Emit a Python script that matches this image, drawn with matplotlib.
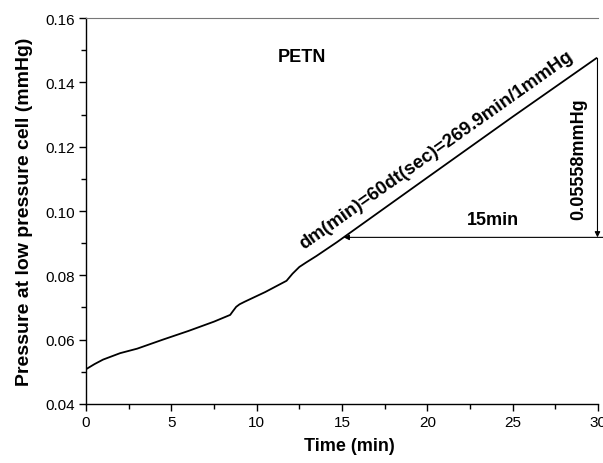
import numpy as np
import matplotlib
matplotlib.use('Agg')
import matplotlib.pyplot as plt
from matplotlib.ticker import MultipleLocator, FormatStrFormatter

plt.rcParams['font.family'] = ['Liberation Sans', 'DejaVu Sans']

# PETN pressure trace
time_min = [0.0, 0.5, 1.0, 2.0, 3.0, 4.5, 6.0, 7.5, 8.45, 8.6, 8.8, 9.0, 9.3,
            10.5, 11.75, 12.1, 12.5, 12.9, 13.5, 14.7, 20.0, 25.0, 29.9]
pressure = [0.0508, 0.0524, 0.0538, 0.0558, 0.0572, 0.0600, 0.0627, 0.0656, 0.0677,
            0.0688, 0.0702, 0.0710, 0.0718, 0.0748, 0.0783, 0.0805, 0.0826, 0.0840,
            0.0860, 0.0903, 0.1104, 0.1293, 0.1475]

# slope markers
arrow_x = 29.97
arrow_top = 0.1475
arrow_bottom = 0.0918
arrow_left = 15.1

fig = plt.figure(figsize=(6.03, 4.64), dpi=100)
ax = fig.add_axes([0.1426, 0.1272, 0.8491, 0.8318])

ax.plot(time_min, pressure, color='black', lw=1.3)

ax.annotate('', xy=(arrow_x, arrow_bottom), xytext=(arrow_x, arrow_top),
            arrowprops=dict(arrowstyle='-|>', color='black', lw=0.8,
                            mutation_scale=8, shrinkA=0, shrinkB=0))
ax.annotate('', xy=(arrow_left, arrow_bottom), xytext=(30.3, arrow_bottom),
            arrowprops=dict(arrowstyle='-|>', color='black', lw=0.8,
                            mutation_scale=8, shrinkA=0, shrinkB=0))

ax.text(12.65, 0.1479, 'PETN', fontsize=13, fontweight='bold', ha='center', va='center')
ax.text(20.5, 0.1190, 'dm(min)=60dt(sec)=269.9min/1mmHg', fontsize=13.5,
        fontweight='bold', ha='center', va='center', rotation=35.3,
        rotation_mode='anchor')
ax.text(23.87, 0.0975, '15min', fontsize=13, fontweight='bold', ha='center', va='center')
ax.text(28.9, 0.1165, '0.05558mmHg', fontsize=13, fontweight='bold',
        ha='center', va='center', rotation=90)

ax.set_xlim(0, 30)
ax.set_ylim(0.04, 0.16)
ax.xaxis.set_major_locator(MultipleLocator(5))
ax.xaxis.set_minor_locator(MultipleLocator(2.5))
ax.yaxis.set_major_locator(MultipleLocator(0.02))
ax.yaxis.set_minor_locator(MultipleLocator(0.01))
ax.yaxis.set_major_formatter(FormatStrFormatter('%.2f'))

ax.spines['right'].set_visible(False)
ax.spines['top'].set_color('#777777')
for s in ['left', 'bottom']:
    ax.spines[s].set_linewidth(1.0)
ax.tick_params(which='major', direction='out', length=5, width=1, labelsize=11, pad=3)
ax.tick_params(which='minor', direction='out', length=3.5, width=1)

ax.set_xlabel('Time (min)', fontsize=13, fontweight='bold')
ax.xaxis.set_label_coords(0.514, -0.085)
ax.set_ylabel('Pressure at low pressure cell (mmHg)', fontsize=14, fontweight='bold', labelpad=9)

plt.savefig('out.png', dpi=100)
plt.close()
